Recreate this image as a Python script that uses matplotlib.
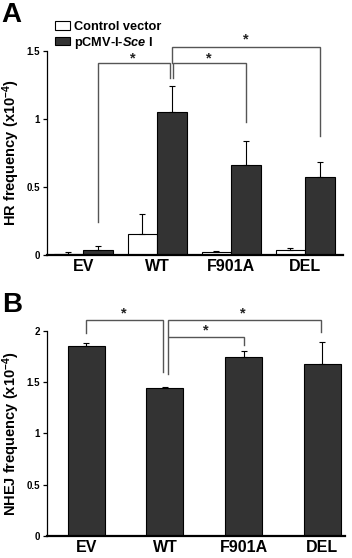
import numpy as np
import matplotlib
matplotlib.use('Agg')
import matplotlib.pyplot as plt
from matplotlib.patches import Patch

plt.rcParams['font.family'] = ['Liberation Sans', 'DejaVu Sans']
plt.rcParams['font.weight'] = 'bold'
plt.rcParams['mathtext.fontset'] = 'custom'
plt.rcParams['mathtext.rm'] = 'Liberation Sans:bold'
plt.rcParams['mathtext.bf'] = 'Liberation Sans:bold'
plt.rcParams['mathtext.it'] = 'Liberation Sans:bold:italic'

groups = ['EV', 'WT', 'F901A', 'DEL']

# panel A: HR frequency (x10^-4)
hr_control = [0.008, 0.152, 0.022, 0.035]
hr_control_err = [0.012, 0.148, 0.008, 0.015]
hr_sce = [0.037, 1.05, 0.66, 0.571]
hr_sce_err = [0.029, 0.19, 0.18, 0.115]

# panel B: NHEJ frequency (x10^-4)
nhej = [1.851, 1.445, 1.747, 1.676]
nhej_err = [0.032, 0.006, 0.058, 0.217]

dark = '#333333'
line_gray = '#555555'

fig = plt.figure(figsize=(3.52, 5.58), dpi=100)

def bracket(ax, x1, x2, y, d1, d2, sx, sy):
    ax.plot([x1, x1, x2, x2], [d1, y, y, d2], color=line_gray, lw=1.0,
            clip_on=False, solid_joinstyle='miter')
    ax.text(sx, sy, '*', ha='center', va='center', fontsize=10.5,
            fontweight='bold', color='#222222', clip_on=False)

def style(ax, top, ticks, ticklabels, ylabel):
    ax.spines['top'].set_visible(False)
    ax.spines['right'].set_visible(False)
    ax.spines['left'].set_linewidth(0.9)
    ax.spines['bottom'].set_linewidth(1.6)
    ax.set_ylim(0, top)
    ax.set_yticks(ticks)
    ax.set_yticklabels(ticklabels, fontsize=7, fontweight='bold')
    ax.tick_params(axis='y', direction='out', length=3, width=0.9, pad=2)
    ax.tick_params(axis='x', length=0, pad=3)
    ax.set_xticks(np.arange(len(groups)))
    ax.set_xticklabels(groups, fontsize=11.5, fontweight='bold')
    ax.set_ylabel(ylabel, fontsize=10.5, fontweight='bold', labelpad=3)

# ---- panel A ----
axA = fig.add_axes([0.1335, 0.543, 0.8405, 0.366])
x = np.arange(len(groups))
w = 0.4
axA.bar(x - w/2, hr_control, w, color='white', edgecolor='black', linewidth=0.8)
axA.bar(x + w/2, hr_sce, w, color=dark, edgecolor='black', linewidth=0.8)
axA.errorbar(x - w/2, hr_control, yerr=[np.zeros(4), hr_control_err], fmt='none',
             ecolor='black', elinewidth=0.8, capsize=2.5, capthick=0.8)
axA.errorbar(x + w/2, hr_sce, yerr=[np.zeros(4), hr_sce_err], fmt='none',
             ecolor='black', elinewidth=0.8, capsize=2.5, capthick=0.8)
axA.set_xlim(-0.49, 3.51)
style(axA, 1.5, [0, 0.5, 1, 1.5], ['0', '0.5', '1', '1.5'],
      r'HR frequency (x10$^{-4}$)')

bracket(axA, 0.2, 1.17, 1.41, 0.245, 1.30, 0.67, 1.44)
bracket(axA, 1.22, 2.2, 1.41, 1.30, 0.98, 1.70, 1.44)
bracket(axA, 1.2, 3.2, 1.53, 1.41, 0.875, 2.2, 1.585)

handles = [Patch(facecolor='white', edgecolor='black', linewidth=0.8),
           Patch(facecolor=dark, edgecolor='black', linewidth=0.8)]
fig.legend(handles, ['Control vector', r'pCMV-I-$\mathit{Sce}$ I'],
           loc='upper left', bbox_to_anchor=(55/352, 1 - 21/558),
           frameon=False, fontsize=9.2, borderpad=0, borderaxespad=0,
           handlelength=1.2, handleheight=0.65, handletextpad=0.25,
           labelspacing=0.12)

# ---- panel B ----
axB = fig.add_axes([0.1335, 0.0394, 0.8465, 0.368])
wb = 0.47
axB.bar(x, nhej, wb, color=dark, edgecolor='black', linewidth=0.8)
axB.errorbar(x, nhej, yerr=[np.zeros(4), nhej_err], fmt='none',
             ecolor='black', elinewidth=0.8, capsize=2.5, capthick=0.8)
axB.set_xlim(-0.5, 3.29)
style(axB, 2, [0, 0.5, 1, 1.5, 2], ['0', '0.5', '1', '1.5', '2'],
      r'NHEJ frequency (x10$^{-4}$)')

bracket(axB, 0.0, 0.975, 2.10, 1.975, 1.60, 0.48, 2.165)
bracket(axB, 1.035, 2.99, 2.10, 1.58, 1.99, 1.99, 2.165)
bracket(axB, 1.05, 2.0, 1.94, 1.94, 1.86, 1.52, 2.0)

fig.text(0.005, 0.997, 'A', fontsize=20, fontweight='bold', va='top', ha='left')
fig.text(0.005, 1 - 292/558, 'B', fontsize=20, fontweight='bold', va='top', ha='left')

fig.savefig('out.png', dpi=100)
